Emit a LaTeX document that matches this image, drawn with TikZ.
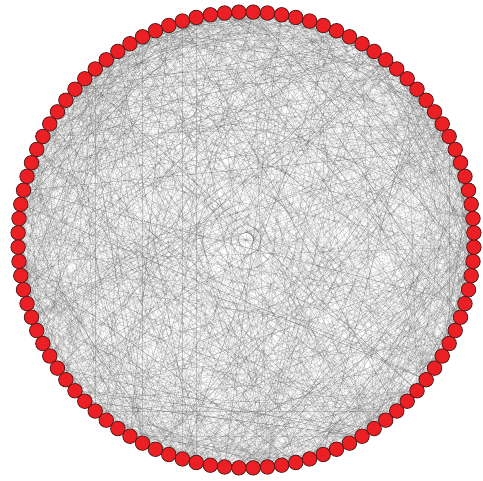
\documentclass[tikz,border=0pt]{standalone}
\usepackage{tikz}
\usetikzlibrary{backgrounds,calc}
\definecolor{nodered}{RGB}{236,32,36}
\definecolor{rimred}{RGB}{85,25,25}

\tikzset{
    vert/.style={circle, fill=nodered, draw=rimred, line width=0.45pt, inner sep=0pt, minimum size=0.29cm},
    link/.style={draw=black!70, line width=0.15pt, opacity=0.25}
}

\begin{document}
\begin{tikzpicture}
    \useasboundingbox (0,0) rectangle (9.66,9.62);
    \coordinate (O) at (4.92,4.82);

    % The vertices on the ring
    \foreach \i in {1,...,100} {
        \node[vert] (n\i) at ($(O)+({91.8+3.6*(\i-1)}:4.56)$) {};
    }

    % Random links, kept behind the vertices
    \begin{scope}[on background layer]
        \pgfmathsetseed{4217}
        \foreach \k in {1,...,1800} {
            \pgfmathtruncatemacro\a{random(1,100)}
            \pgfmathtruncatemacro\b{random(1,100)}
            \ifnum\a=\b\else
                \draw[link] (n\a.center) -- (n\b.center);
            \fi
        }
    \end{scope}
\end{tikzpicture}
\end{document}
